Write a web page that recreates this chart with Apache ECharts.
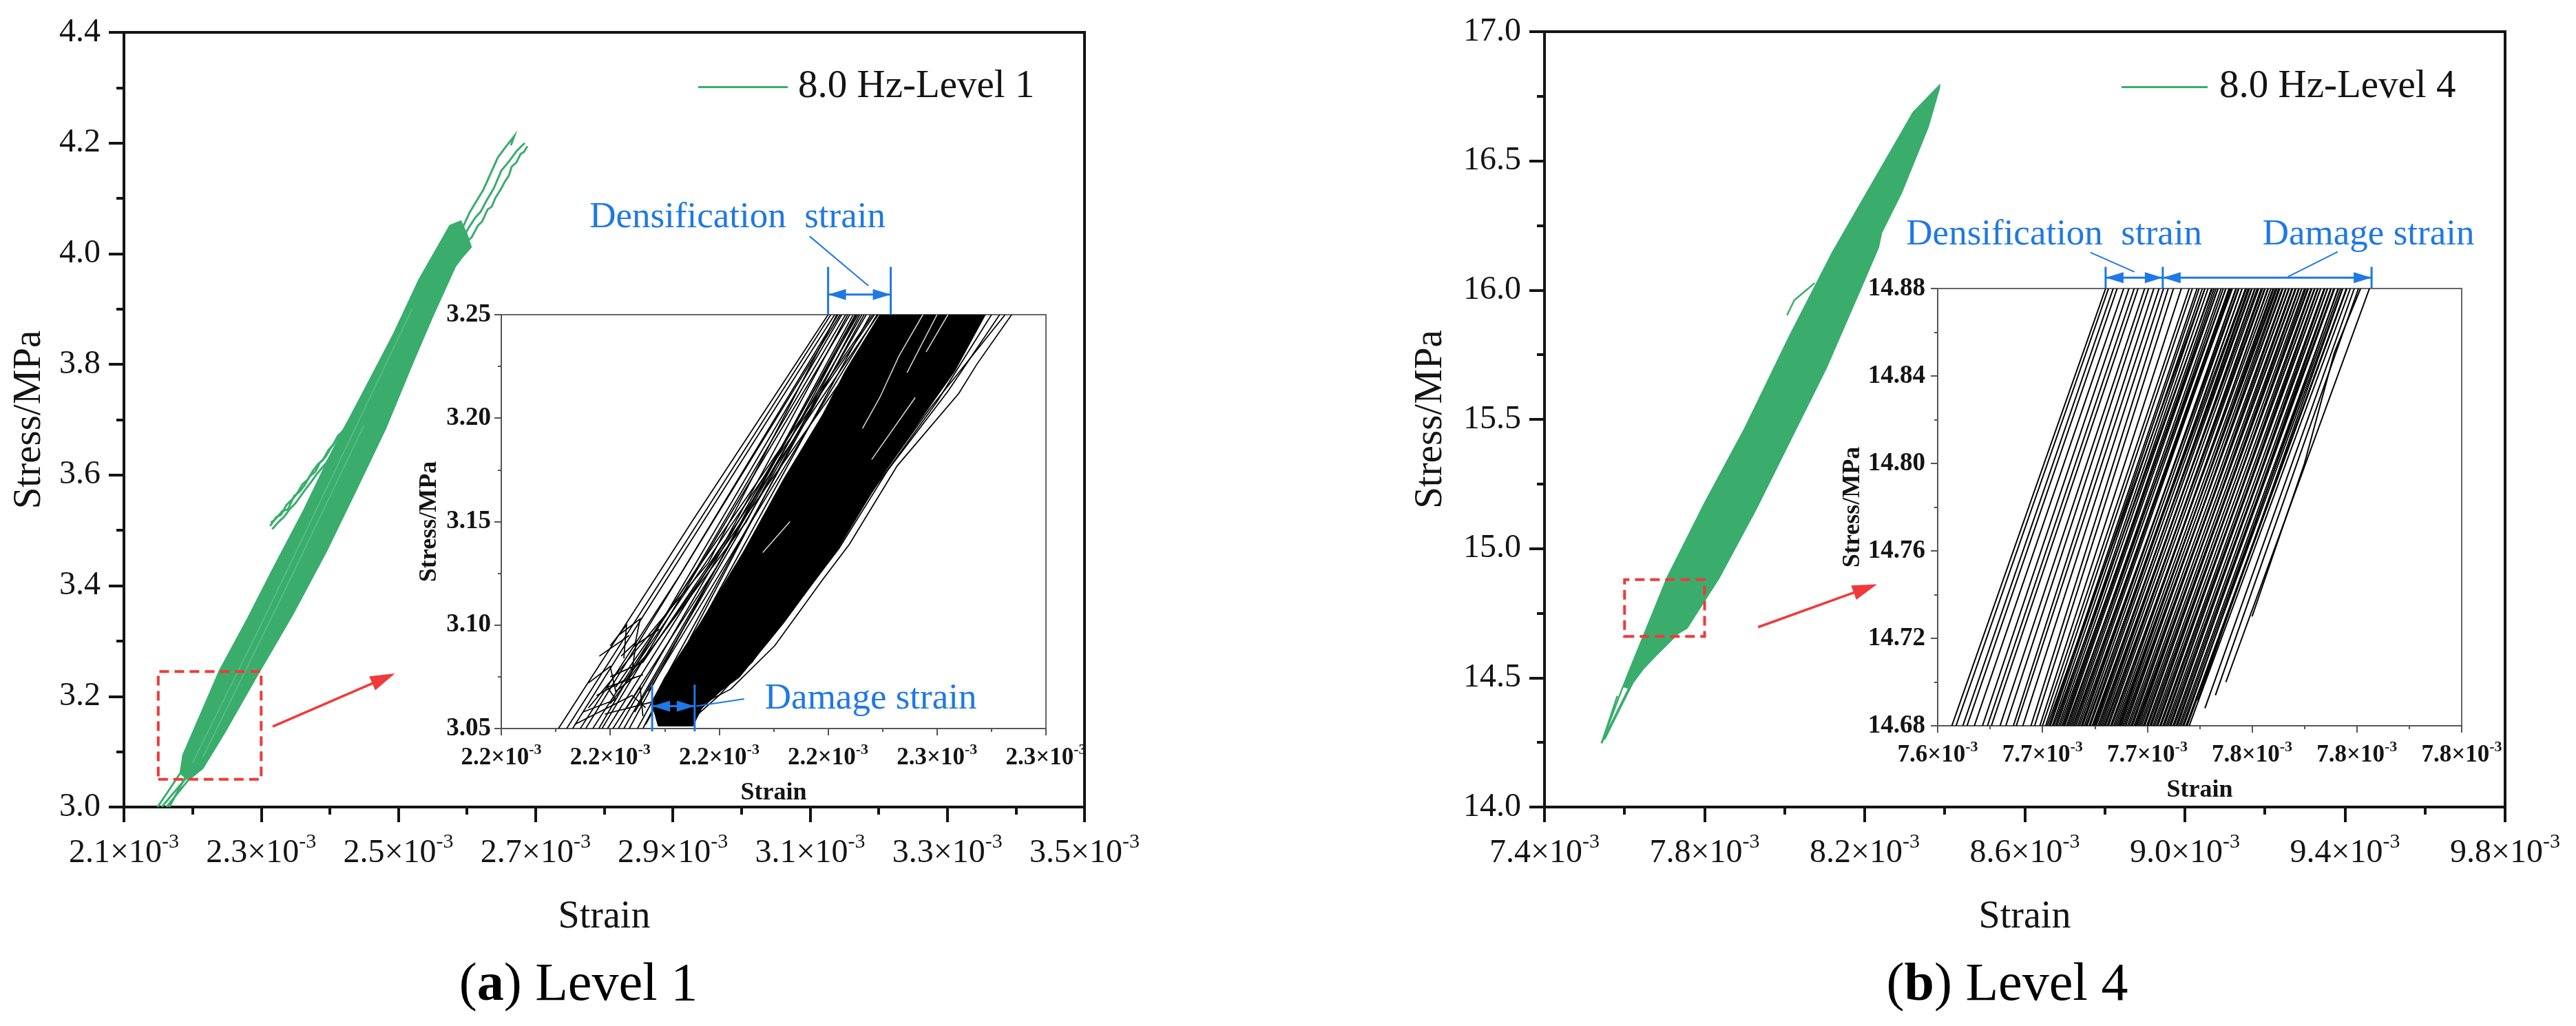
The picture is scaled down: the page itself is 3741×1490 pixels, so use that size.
<!DOCTYPE html>
<html><head><meta charset="utf-8">
<script src="https://cdn.jsdelivr.net/npm/echarts@6/dist/echarts.min.js"></script>
<style>html,body{margin:0;padding:0;background:#fff}#c{width:3741px;height:1490px}</style>
</head><body><div id="c"></div>
<script>
// ---------------- DATA (strain in units of 1e-3, stress in MPa) ----------------
// axis ranges [min, max, step]
const xMainA = [2.1, 3.5, 0.2];
const yMainA = [3.0, 4.4, 0.2];
const xInsetA = [2.18, 2.28, 0.02];
const yInsetA = [3.05, 3.25, 0.05];
const xMainB = [7.4, 9.8, 0.4];
const yMainB = [14.0, 17.0, 0.5];
const xInsetB = [7.64, 7.84, 0.04];
const yInsetB = [14.68, 14.88, 0.04];
const seriesNames = ['8.0 Hz-Level 1', '8.0 Hz-Level 4'];

// Level 1: outline of the dense hysteresis band
const bandA = [[2.182,3.061],[2.186,3.094],[2.239,3.246],[2.280,3.340],[2.317,3.430],[2.362,3.536],[2.403,3.642],[2.448,3.748],[2.493,3.855],[2.530,3.953],[2.575,4.051],[2.591,4.059],[2.600,4.035],[2.606,4.012],[2.592,3.992],[2.583,3.977],[2.550,3.887],[2.522,3.806],[2.481,3.683],[2.440,3.577],[2.395,3.462],[2.346,3.348],[2.292,3.233],[2.247,3.135],[2.215,3.070],[2.194,3.049]];
// Level 1: individual thin loops
const linesA = [
  [[2.182,3.061],[2.149,3.0]],
  [[2.194,3.049],[2.162,3.0]],
  [[2.190,3.055],[2.166,3.0]],
  [[2.200,3.066],[2.155,3.0]],
  [[2.591,4.040],[2.604,4.075],[2.624,4.116],[2.645,4.174],[2.657,4.194],[2.669,4.213],[2.664,4.196]],
  [[2.598,4.020],[2.607,4.030],[2.616,4.051],[2.622,4.058],[2.630,4.080],[2.636,4.085],[2.641,4.100],[2.650,4.118],[2.655,4.130],[2.661,4.141],[2.665,4.157],[2.672,4.165],[2.678,4.180],[2.683,4.184],[2.688,4.194]],
  [[2.595,4.030],[2.603,4.048],[2.612,4.065],[2.620,4.076],[2.628,4.095],[2.639,4.118],[2.650,4.150],[2.662,4.168],[2.672,4.185],[2.684,4.200]],
  [[2.313,3.508],[2.322,3.524],[2.329,3.528],[2.337,3.546],[2.346,3.557],[2.352,3.566],[2.360,3.583],[2.368,3.592],[2.375,3.607],[2.383,3.620],[2.390,3.627],[2.398,3.645],[2.405,3.655],[2.412,3.671],[2.419,3.679],[2.427,3.697],[2.434,3.707],[2.441,3.722],[2.448,3.740],[2.455,3.752],[2.463,3.766],[2.470,3.781]],
  [[2.316,3.502],[2.326,3.516],[2.333,3.524],[2.342,3.539],[2.350,3.549],[2.357,3.561],[2.365,3.575],[2.372,3.586],[2.380,3.600],[2.388,3.612],[2.395,3.622],[2.402,3.637],[2.410,3.648],[2.417,3.662],[2.424,3.672],[2.431,3.688],[2.439,3.700],[2.446,3.714],[2.453,3.730],[2.461,3.743],[2.468,3.758],[2.476,3.772]],
  [[2.314,3.514],[2.320,3.519],[2.331,3.535],[2.339,3.538],[2.348,3.562],[2.356,3.570],[2.363,3.581],[2.371,3.598],[2.379,3.606],[2.386,3.623],[2.394,3.633],[2.401,3.648],[2.408,3.660],[2.416,3.675],[2.423,3.686],[2.430,3.699],[2.437,3.713],[2.445,3.728],[2.452,3.738],[2.459,3.756],[2.467,3.770]]
];
const streaksA = [
  [[2.200,3.080],[2.300,3.330],[2.420,3.640],[2.520,3.900]],
  [[2.215,3.090],[2.330,3.380],[2.450,3.690]]
];
// Level 1 inset (black curves)
const coreA = [[2.2495,3.25],[2.2431,3.2225],[2.2390,3.2017],[2.2318,3.1704],[2.2245,3.1356],[2.2165,3.1008],[2.2100,3.0747],[2.2076,3.0625],[2.2088,3.0512],[2.2152,3.0512],[2.2173,3.0625],[2.2237,3.0747],[2.2318,3.1008],[2.2415,3.1356],[2.2495,3.1704],[2.2576,3.2017],[2.2632,3.2225],[2.2689,3.25]];
const insetLinesA = [
  [[2.1905,3.05],[2.2150,3.150],[2.2400,3.25]],
  [[2.1920,3.05],[2.2405,3.25]],
  [[2.1931,3.05],[2.2050,3.100],[2.2412,3.25]],
  [[2.1945,3.05],[2.2130,3.125],[2.2418,3.25]],
  [[2.1955,3.05],[2.2422,3.25]],
  [[2.1968,3.05],[2.2160,3.128],[2.2432,3.25]],
  [[2.1979,3.05],[2.2425,3.25]],
  [[2.1985,3.05],[2.2440,3.25]],
  [[2.1995,3.05],[2.2210,3.140],[2.2436,3.25]],
  [[2.2005,3.05],[2.2200,3.130],[2.2450,3.25]],
  [[2.2015,3.05],[2.2455,3.25]],
  [[2.2025,3.05],[2.2462,3.25]],
  [[2.2035,3.05],[2.2446,3.25]],
  [[2.2050,3.05],[2.2466,3.25]],
  [[2.2060,3.05],[2.2458,3.25]],
  [[2.2065,3.052],[2.2478,3.25]],
  [[2.2045,3.058],[2.2470,3.25]],
  [[2.2010,3.070],[2.2482,3.25]],
  [[2.2070,3.068],[2.2490,3.25]],
  [[2.1960,3.060],[2.2180,3.130],[2.2416,3.25]],
  [[2.2000,3.062],[2.2250,3.150],[2.2452,3.25]],
  [[2.1975,3.066],[2.2030,3.074],[2.2485,3.25]],
  [[2.2000,3.075],[2.2060,3.082],[2.2492,3.25]],
  [[2.2020,3.085],[2.2048,3.092],[2.2040,3.078],[2.2075,3.088],[2.2470,3.235]],
  [[2.1935,3.052],[2.2040,3.066],[2.2065,3.060]],
  [[2.1960,3.072],[2.2000,3.080],[2.2010,3.068],[2.2045,3.075]],
  [[2.1950,3.058],[2.2010,3.064],[2.1995,3.070],[2.2060,3.076]],
  [[2.2015,3.095],[2.2055,3.103],[2.2045,3.090],[2.2090,3.098]],
  [[2.1980,3.085],[2.2035,3.095]],
  [[2.2030,3.060],[2.2055,3.070],[2.2060,3.056]],
  [[2.1990,3.057],[2.2080,3.063]],
  [[2.2000,3.090],[2.2030,3.100],[2.2025,3.084]],
  [[2.2152,3.053],[2.2173,3.0625],[2.2221,3.069],[2.2302,3.090],[2.2390,3.122],[2.2439,3.139],[2.2527,3.177],[2.2640,3.212],[2.2673,3.226],[2.2737,3.25]],
  [[2.2140,3.052],[2.2200,3.066],[2.2290,3.092],[2.2420,3.137],[2.2510,3.175],[2.2620,3.213],[2.2715,3.25]],
  [[2.2160,3.058],[2.2260,3.082],[2.2380,3.126],[2.2490,3.168],[2.2600,3.208],[2.2700,3.25]],
  [[2.2150,3.056],[2.2240,3.078],[2.2360,3.120],[2.2470,3.162],[2.2585,3.204],[2.2725,3.25]]
];
const insetStreaksA = [
  [[2.2574,3.25],[2.2530,3.230],[2.2495,3.210],[2.2463,3.195]],
  [[2.2600,3.25],[2.2545,3.222]],
  [[2.2330,3.150],[2.2280,3.135]],
  [[2.2560,3.21],[2.2480,3.18]],
  [[2.2620,3.25],[2.2580,3.232]]
];

// Level 4: outline of the dense hysteresis band
const bandB = [[7.596,14.466],[7.604,14.498],[7.706,14.886],[7.800,15.176],[7.901,15.467],[8.010,15.815],[8.119,16.145],[8.227,16.435],[8.321,16.687],[8.387,16.793],[8.387,16.784],[8.358,16.629],[8.292,16.377],[8.242,16.222],[8.234,16.164],[8.191,16.009],[8.104,15.699],[8.017,15.428],[7.930,15.157],[7.836,14.886],[7.756,14.692],[7.735,14.673],[7.684,14.595],[7.648,14.537],[7.611,14.460]];
const linesB = [
  [[7.596,14.466],[7.5425,14.247]],
  [[7.611,14.460],[7.5425,14.247]],
  [[7.620,14.480],[7.550,14.262]],
  [[7.582,14.430],[7.5425,14.247]],
  [[8.006,15.903],[8.024,15.961],[8.061,16.009],[8.075,16.028]]
];
// Level 4 inset: strain at the bottom (14.68 MPa) and top (14.88 MPa) of each loading branch
const insetBottomB = [7.6454,7.6470,7.6496,7.6512,7.6540,7.6571,7.6590,7.6605,7.6638,7.6660,7.6689,7.6700,7.6725,7.6756,7.6770,
  7.6790,7.6800,7.6812,7.6825,7.6838,7.6850,7.6862,7.6875,7.6885,7.6898,7.6910,7.6922,7.6935,7.6948,7.6960,7.6970,7.6982,7.6995,7.7005,7.7018,
  7.7030,7.7040,7.7052,7.7065,7.7078,7.7090,7.7100,7.7112,7.7125,7.7138,7.7150,7.7160,7.7172,7.7185,7.7198,7.7210,7.7222,7.7235,7.7248,7.7260,
  7.7272,7.7285,7.7298,7.7310,7.7322,7.7335,7.7348,7.7360,
  7.6818,7.6843,7.6868,7.6892,7.6916,7.6941,7.6966,7.6990,7.7012,7.7036,7.7060,7.7084,7.7106,7.7131,7.7155,7.7178,7.7203,7.7228,7.7252,7.7278,7.7303,7.7328,7.7352,
  7.6830,7.6855,7.6880,7.6904,7.6928,7.6953,7.6978,7.7000,7.7024,7.7047,7.7072,7.7095,7.7118,7.7143,7.7166,7.7190,7.7215,7.7240,7.7265,7.7290,7.7315,7.7340];
const insetTopB = [7.7041,7.7052,7.7070,7.7085,7.7110,7.7130,7.7150,7.7165,7.7190,7.7205,7.7225,7.7245,7.7262,7.7280,7.7300,
  7.7330,7.7360,7.7372,7.7390,7.7410,7.7420,7.7445,7.7455,7.7470,7.7482,7.7500,7.7512,7.7520,7.7540,7.7550,7.7562,7.7578,7.7590,7.7600,7.7612,
  7.7625,7.7640,7.7650,7.7662,7.7680,7.7690,7.7702,7.7715,7.7728,7.7740,7.7752,7.7765,7.7778,7.7790,7.7800,7.7812,7.7825,7.7838,7.7850,7.7862,
  7.7875,7.7888,7.7900,7.7915,7.7930,7.7945,7.7960,7.7975,
  7.7420,7.7448,7.7470,7.7500,7.7525,7.7548,7.7575,7.7598,7.7620,7.7648,7.7672,7.7695,7.7718,7.7742,7.7768,7.7790,7.7815,7.7840,7.7862,7.7888,7.7912,7.7938,7.7962,
  7.7398,7.7432,7.7462,7.7490,7.7515,7.7538,7.7562,7.7585,7.7610,7.7635,7.7660,7.7683,7.7706,7.7730,7.7755,7.7780,7.7805,7.7828,7.7852,7.7878,7.7902,7.7928];
const insetShortB = [
  [[7.7393,14.6915],[7.7946,14.88]],
  [[7.7460,14.694],[7.8006,14.88]],
  [[7.7500,14.700],[7.8048,14.88]],
  [[7.7420,14.688],[7.7990,14.88]],
  [[7.7600,14.730],[7.7800,14.800],[7.7914,14.8507],[7.8014,14.88]]
];

// annotations (data coordinates of the insets / main plots)
const densBarsA = [2.2400, 2.2515], densBarYA = [3.25, 3.2731], densArrowYA = 3.2597;
const densLeaderA = [[2.2366,3.2879],[2.2474,3.2640]], densTextA = [2.1962,3.2969];
const damBarsA = [2.2077, 2.2155], damBarYA = [3.0486, 3.0712], damArrowYA = 3.0608;
const damLeaderA = [[2.2158,3.0608],[2.2246,3.0643]], damTextA = [2.2284,3.0643];
const barsB = [7.7041, 7.7259, 7.8056], barYB = [14.88, 14.8899], arrowYB = 14.885;
const densLeaderB = [[7.6983,14.8965],[7.7151,14.8876]], damLeaderB = [[7.7927,14.8968],[7.7737,14.8854]];
const densTextB = [7.628,14.9046], damTextB = [7.764,14.9046];
const boxA = [[2.15,3.05],[2.30,3.245]], boxB = [[7.60,14.66],[7.80,14.88]];
const redArrowA = [[2.3168,3.1454],[2.495,3.2413]], redArrowB = [[7.9338,14.696],[8.2308,14.862]];
const annoTexts = ['Densification  strain', 'Damage strain'];
const captions = [['a', ' Level 1'], ['b', ' Level 4']];

// ---------------- STYLE / HELPERS ----------------
const SERIF = '"Liberation Serif","Times New Roman",serif';
const GREEN = '#3aad6d', BLUE = '#1f78e6', RED = '#f03a3a', INK = '#141414';

function xAxisDef(gi, r, o) {
  return {
    gridIndex: gi, type: 'value', min: r[0], max: r[1], interval: r[2],
    name: 'Strain', nameLocation: 'middle', nameGap: o.nameGap,
    nameTextStyle: {fontFamily: SERIF, fontSize: o.nameSize, fontWeight: o.bold ? 'bold' : 'normal', color: INK},
    axisLine: {show: true, onZero: false, lineStyle: {color: o.color, width: o.lw}},
    axisTick: {show: true, inside: false, length: o.tick, lineStyle: {color: o.color, width: o.lw}},
    minorTick: {show: true, splitNumber: 2, length: o.tick / 2, lineStyle: {color: o.color, width: o.lw}},
    splitLine: {show: false}, minorSplitLine: {show: false},
    axisLabel: {
      margin: o.margin, color: INK, fontFamily: SERIF,
      formatter: v => '{n|' + v.toFixed(1) + '×10}{s|-3}',
      rich: {
        n: {fontSize: o.size, fontFamily: SERIF, fontWeight: o.bold ? 'bold' : 'normal', color: INK, lineHeight: o.size * 1.15, verticalAlign: 'bottom'},
        s: {fontSize: Math.round(o.size * 0.62), fontFamily: SERIF, fontWeight: o.bold ? 'bold' : 'normal', color: INK, lineHeight: Math.round(o.size * 0.62), verticalAlign: 'top'}
      }
    }
  };
}
function yAxisDef(gi, r, o) {
  return {
    gridIndex: gi, type: 'value', min: r[0], max: r[1], interval: r[2],
    name: 'Stress/MPa', nameLocation: 'middle', nameGap: o.nameGap, nameRotate: 90,
    nameTextStyle: {fontFamily: SERIF, fontSize: o.nameSize, fontWeight: o.bold ? 'bold' : 'normal', color: INK},
    axisLine: {show: true, onZero: false, lineStyle: {color: o.color, width: o.lw}},
    axisTick: {show: true, inside: false, length: o.tick, lineStyle: {color: o.color, width: o.lw}},
    minorTick: {show: true, splitNumber: 2, length: o.tick / 2, lineStyle: {color: o.color, width: o.lw}},
    splitLine: {show: false}, minorSplitLine: {show: false},
    axisLabel: {margin: o.margin, color: INK, fontFamily: SERIF, fontSize: o.size, fontWeight: o.bold ? 'bold' : 'normal',
      formatter: v => v.toFixed(o.dec)}
  };
}
function polygonSeries(name, pts, gi, style, z) {
  return {type: 'custom', name, xAxisIndex: gi, yAxisIndex: gi, coordinateSystem: 'cartesian2d', clip: true, silent: true, z: z,
    itemStyle: {color: style.fill !== 'none' ? style.fill : style.stroke},
    data: [pts[0]],
    renderItem: (params, api) => ({type: 'polygon', shape: {points: pts.map(p => api.coord(p))}, style: style})
  };
}
function polylineSeries(name, lines, gi, style, z) {
  return {type: 'custom', name, xAxisIndex: gi, yAxisIndex: gi, coordinateSystem: 'cartesian2d', clip: true, silent: true, z: z,
    itemStyle: {color: style.stroke},
    data: lines.map(l => l[0]),
    renderItem: (params, api) => ({type: 'polyline', shape: {points: lines[params.dataIndex].map(p => api.coord(p))},
      style: Object.assign({fill: 'none'}, style)})
  };
}

const insetLinesB = insetBottomB.map((b, i) => [[b, yInsetB[0]], [insetTopB[i], yInsetB[1]]]).concat(insetShortB);
const rectPts = b => [[b[0][0], b[0][1]], [b[1][0], b[0][1]], [b[1][0], b[1][1]], [b[0][0], b[1][1]]];

const mainX = {nameGap: 132, nameSize: 56, color: INK, lw: 4, tick: 22, margin: 36, size: 48};
const insX = {nameGap: 76, nameSize: 36, bold: true, color: '#555', lw: 2, tick: 10, margin: 20, size: 35};

const option = {
  animation: false,
  backgroundColor: '#fff',
  grid: [
    {left: 180, top: 47, width: 1395, height: 1125, show: true, borderColor: INK, borderWidth: 4, backgroundColor: 'transparent'},
    {left: 728, top: 457, width: 791, height: 601, show: true, borderColor: '#666', borderWidth: 2, backgroundColor: '#fff', z: 5},
    {left: 2243, top: 46, width: 1395, height: 1126, show: true, borderColor: INK, borderWidth: 4, backgroundColor: 'transparent'},
    {left: 2814, top: 419, width: 761, height: 635, show: true, borderColor: '#666', borderWidth: 2, backgroundColor: '#fff', z: 5}
  ],
  xAxis: [
    xAxisDef(0, xMainA, mainX),
    Object.assign(xAxisDef(1, xInsetA, insX), {z: 6}),
    xAxisDef(2, xMainB, mainX),
    Object.assign(xAxisDef(3, xInsetB, insX), {z: 6})
  ],
  yAxis: [
    yAxisDef(0, yMainA, {nameGap: 108, nameSize: 57, color: INK, lw: 4, tick: 22, margin: 34, size: 48, dec: 1}),
    Object.assign(yAxisDef(1, yInsetA, {nameGap: 86, nameSize: 36, bold: true, color: '#555', lw: 2, tick: 10, margin: 15, size: 37, dec: 2}), {z: 6}),
    yAxisDef(2, yMainB, {nameGap: 136, nameSize: 57, color: INK, lw: 4, tick: 22, margin: 34, size: 48, dec: 1}),
    Object.assign(yAxisDef(3, yInsetB, {nameGap: 104, nameSize: 36, bold: true, color: '#555', lw: 2, tick: 10, margin: 18, size: 37, dec: 2}), {z: 6})
  ],
  legend: [
    {data: [seriesNames[0]], left: 1014, top: 98, icon: 'rect', itemWidth: 130, itemHeight: 3, padding: 0,
      itemStyle: {color: GREEN}, textStyle: {fontFamily: SERIF, fontSize: 57, color: INK, padding: [0, 0, 0, 10]}, selectedMode: false},
    {data: [seriesNames[1]], left: 3081, top: 98, icon: 'rect', itemWidth: 125, itemHeight: 3, padding: 0,
      itemStyle: {color: GREEN}, textStyle: {fontFamily: SERIF, fontSize: 57, color: INK, padding: [0, 0, 0, 12]}, selectedMode: false}
  ],
  series: [
    polygonSeries(seriesNames[0], bandA, 0, {fill: GREEN, stroke: GREEN, lineWidth: 2}, 2),
    polylineSeries(seriesNames[0], linesA, 0, {stroke: GREEN, lineWidth: 3}, 3),
    polylineSeries('streaks-a', streaksA, 0, {stroke: '#6cc493', lineWidth: 1.5, opacity: 0.7}, 3),
    polygonSeries('box-a', rectPts(boxA), 0, {fill: 'none', stroke: RED, lineWidth: 4, lineDash: [14, 8]}, 4),
    polygonSeries('core-a', coreA, 1, {fill: '#000', stroke: '#000', lineWidth: 1}, 7),
    polylineSeries('streak-a', insetStreaksA, 1, {stroke: '#fff', lineWidth: 1.5, opacity: 0.85}, 8),
    polylineSeries('inset-a', insetLinesA, 1, {stroke: '#000', lineWidth: 1.7}, 9),

    polygonSeries(seriesNames[1], bandB, 2, {fill: GREEN, stroke: GREEN, lineWidth: 2}, 2),
    polylineSeries(seriesNames[1], linesB, 2, {stroke: GREEN, lineWidth: 2.5}, 3),
    polygonSeries('box-b', rectPts(boxB), 2, {fill: 'none', stroke: RED, lineWidth: 4, lineDash: [14, 8]}, 4),
    polylineSeries('inset-b', insetLinesB, 3, {stroke: '#000', lineWidth: 2}, 9)
  ]
};

const chart = echarts.init(document.getElementById('c'));
chart.setOption(option);

// ---------------- annotations via the axes' own scales ----------------
const g = [];
const px = (gi, p) => chart.convertToPixel({gridIndex: gi}, p);
function seg(a, b, color, w) { g.push({type: 'line', z: 100, shape: {x1: a[0], y1: a[1], x2: b[0], y2: b[1]}, style: {stroke: color, lineWidth: w}}); }
function head(tip, from, color, len, wid) {
  const dx = tip[0] - from[0], dy = tip[1] - from[1], L = Math.hypot(dx, dy), ux = dx / L, uy = dy / L;
  const bx = tip[0] - ux * len, by = tip[1] - uy * len;
  g.push({type: 'polygon', z: 101, shape: {points: [tip, [bx - uy * wid / 2, by + ux * wid / 2], [bx + uy * wid / 2, by - ux * wid / 2]]}, style: {fill: color}});
}
function dimArrow(a, b, color) { seg(a, b, color, 3); head(a, b, color, 26, 16); head(b, a, color, 26, 16); }
function txt(p, s, color, size) { g.push({type: 'text', z: 102, x: p[0], y: p[1], style: {text: s, fill: color, fontSize: size, fontFamily: SERIF, align: 'left', verticalAlign: 'middle'}}); }

// Level 1 inset annotations
densBarsA.forEach(x => seg(px(1, [x, densBarYA[0]]), px(1, [x, densBarYA[1]]), BLUE, 3));
dimArrow(px(1, [densBarsA[0], densArrowYA]), px(1, [densBarsA[1], densArrowYA]), BLUE);
seg(px(1, densLeaderA[0]), px(1, densLeaderA[1]), BLUE, 2);
txt(px(1, densTextA), annoTexts[0], BLUE, 53);
damBarsA.forEach(x => seg(px(1, [x, damBarYA[0]]), px(1, [x, damBarYA[1]]), BLUE, 3));
dimArrow(px(1, [damBarsA[0], damArrowYA]), px(1, [damBarsA[1], damArrowYA]), BLUE);
seg(px(1, damLeaderA[0]), px(1, damLeaderA[1]), BLUE, 2);
txt(px(1, damTextA), annoTexts[1], BLUE, 53);

// Level 4 inset annotations
barsB.forEach(x => seg(px(3, [x, barYB[0]]), px(3, [x, barYB[1]]), BLUE, 3));
dimArrow(px(3, [barsB[0], arrowYB]), px(3, [barsB[1], arrowYB]), BLUE);
dimArrow(px(3, [barsB[1], arrowYB]), px(3, [barsB[2], arrowYB]), BLUE);
seg(px(3, densLeaderB[0]), px(3, densLeaderB[1]), BLUE, 2);
seg(px(3, damLeaderB[0]), px(3, damLeaderB[1]), BLUE, 2);
txt(px(3, densTextB), annoTexts[0], BLUE, 53);
txt(px(3, damTextB), annoTexts[1], BLUE, 53);

// red pointer arrows
[[0, redArrowA], [2, redArrowB]].forEach(([gi, ar]) => {
  const a = px(gi, ar[0]), b = px(gi, ar[1]);
  const dx = b[0] - a[0], dy = b[1] - a[1], L = Math.hypot(dx, dy);
  seg(a, [b[0] - dx / L * 30, b[1] - dy / L * 30], RED, 3.5);
  head(b, a, RED, 36, 22);
});

// captions
[[840, captions[0]], [2915, captions[1]]].forEach(([cx, c]) => {
  g.push({type: 'text', z: 102, x: cx, y: 1432, style: {
    text: '{p|(}{b|' + c[0] + '}{p|)' + c[1] + '}', align: 'center', verticalAlign: 'middle',
    rich: {p: {fontFamily: SERIF, fontSize: 78, fill: '#000'}, b: {fontFamily: SERIF, fontSize: 78, fontWeight: 'bold', fill: '#000'}}
  }});
});

chart.setOption({graphic: {elements: g}});
</script>
</body></html>
